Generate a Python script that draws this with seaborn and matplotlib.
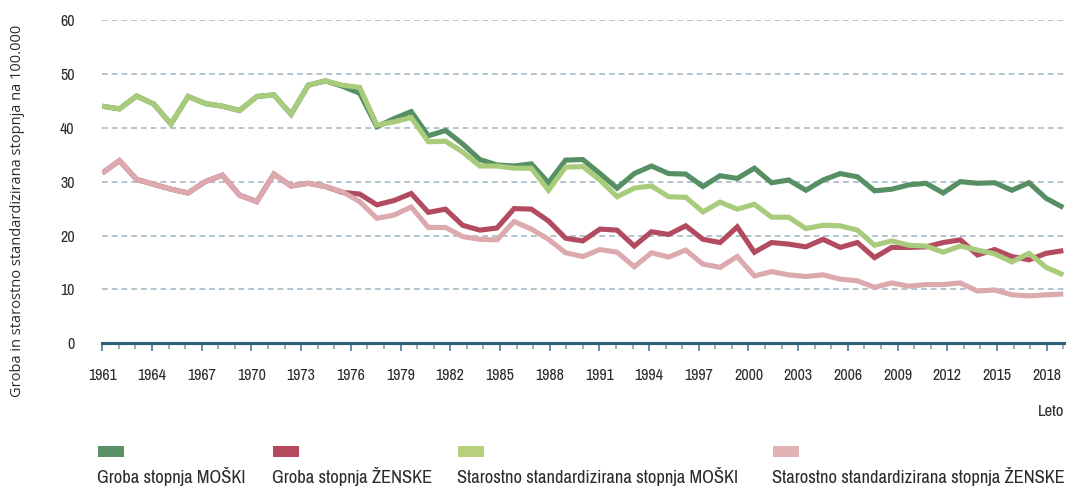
import numpy as np
import pandas as pd
import matplotlib
matplotlib.use("Agg")
import matplotlib.pyplot as plt
from matplotlib.patches import Rectangle
from matplotlib.ticker import FixedLocator
from matplotlib import font_manager
import seaborn as sns

# ---- data -------------------------------------------------------------
first_year = 1961
n_points = 57
axis_years = list(range(1961, 2020))          # year ticks along the axis
label_years = list(range(1961, 2019, 3))      # labelled ticks

crude_male = [44.0, 43.5, 45.9, 44.4, 40.7, 45.8, 44.5, 44.0, 43.2, 45.8, 46.1, 42.5, 47.9, 48.7,
              47.7, 46.4, 40.2, 41.7, 43.0,
              38.5, 39.5, 37.0, 34.1, 33.1, 32.9, 33.3, 29.8, 34.0, 34.1, 31.5, 28.8, 31.5, 32.9,
              31.5, 31.4, 29.1, 31.1, 30.6,
              32.5, 29.8, 30.3, 28.4, 30.3, 31.5, 30.9, 28.3, 28.6, 29.4, 29.7, 27.9, 30.0, 29.7,
              29.8, 28.4, 29.8, 26.9, 25.2]
crude_female = [31.6, 33.9, 30.4, 29.5, 28.6, 27.9, 30.0, 31.2, 27.5, 26.3, 31.4, 29.2, 29.7, 29.1,
                28.0, 27.7, 25.7, 26.5, 27.8,
                24.3, 24.9, 21.9, 21.0, 21.4, 25.0, 24.9, 22.7, 19.5, 19.0, 21.2, 21.0, 18.05, 20.7,
                20.2, 21.8, 19.3, 18.7, 21.6,
                16.9, 18.7, 18.4, 17.9, 19.3, 17.8, 18.7, 15.9, 17.8, 17.8, 17.9, 18.7, 19.2, 16.4,
                17.4, 16.1, 15.5, 16.7, 17.2]
std_male = [44.0, 43.5, 45.9, 44.4, 40.7, 45.8, 44.5, 44.0, 43.2, 45.8, 46.1, 42.5, 47.9, 48.7,
            47.9, 47.5, 40.5, 41.1, 41.9,
            37.4, 37.5, 35.5, 32.9, 32.9, 32.5, 32.5, 28.4, 32.7, 32.8, 30.3, 27.2, 28.8, 29.2,
            27.2, 27.1, 24.4, 26.2, 24.9,
            25.8, 23.4, 23.4, 21.3, 21.9, 21.8, 21.0, 18.2, 19.0, 18.2, 18.05, 16.9, 18.05, 17.3,
            16.6, 15.1, 16.7, 14.1, 12.7]
std_female = [31.6, 33.9, 30.4, 29.5, 28.6, 27.9, 30.0, 31.2, 27.5, 26.3, 31.4, 29.2, 29.7, 29.1,
              28.1, 26.3, 23.2, 23.8, 25.3,
              21.5, 21.5, 19.8, 19.3, 19.2, 22.6, 21.2, 19.3, 16.8, 16.1, 17.4, 16.9, 14.2, 16.8,
              16.0, 17.3, 14.7, 14.1, 16.1,
              12.5, 13.3, 12.7, 12.4, 12.7, 11.9, 11.6, 10.4, 11.2, 10.6, 10.9, 10.9, 11.2, 9.7,
              9.9, 9.0, 8.8, 9.0, 9.15]

series_names = ["Groba stopnja MOŠKI", "Groba stopnja ŽENSKE",
                "Starostno standardizirana stopnja MOŠKI", "Starostno standardizirana stopnja ŽENSKE"]
series_values = [crude_male, crude_female, std_male, std_female]
line_colors = ["#568f64", "#b24b60", "#a8cc7b", "#dcaaae"]
legend_colors = ["#5a9066", "#b54a5f", "#b6d07e", "#e2b3b5"]

y_ticks = [0, 10, 20, 30, 40, 50, 60]
y_label = "Groba in starostno standardizirana stopnja na 100.000"
x_label = "Leto"

# ---- fonts ------------------------------------------------------------
sns.set_theme(style="white")
installed = {f.name for f in font_manager.fontManager.ttflist}
narrow = next((f for f in ["Archivo Narrow", "Barlow Condensed", "Asap Condensed"] if f in installed),
              "DejaVu Sans")
regular = "Open Sans" if "Open Sans" in installed else "DejaVu Sans"
plt.rcParams["font.family"] = [narrow, "DejaVu Sans"]
text_color = "#2b2b2b"

# ---- long-form table --------------------------------------------------
rows = []
for name, vals in zip(series_names, series_values):
    for i, v in enumerate(vals):
        rows.append({"punkt": first_year + i, "serija": name, "vrednost": v})
df = pd.DataFrame(rows)

# ---- figure -----------------------------------------------------------
W, H = 1066, 488
fig = plt.figure(figsize=(W / 100, H / 100), dpi=100)
x0, x1 = 102.3, 1066.0
y0, y1 = 343.3, 20.0
ax = fig.add_axes([x0 / W, 1 - y0 / H, (x1 - x0) / W, (y0 - y1) / H])

step_px = (1063.3 - x0) / (n_points - 1)
ax.set_xlim(first_year, first_year + (x1 - x0) / step_px)
ax.set_ylim(0, 60)

sns.lineplot(data=df, x="punkt", y="vrednost", hue="serija", hue_order=series_names,
             palette=dict(zip(series_names, line_colors)), linewidth=3.7,
             legend=False, ax=ax, estimator=None, sort=False)
for ln in ax.get_lines():
    ln.set_solid_joinstyle("miter")
    ln.set_solid_capstyle("butt")

# grid and y axis
ax.set_yticks(y_ticks)
ax.set_yticklabels([str(t) for t in y_ticks], fontsize=11.5, color=text_color)
ax.tick_params(axis="y", length=0, pad=20)
ax.yaxis.grid(True, linestyle=(0, (3.2, 2.2)), color="#aebfca", linewidth=1.3)
ax.set_axisbelow(True)
for s in ["top", "right", "left"]:
    ax.spines[s].set_visible(False)
ax.spines["bottom"].set_color("#2c6079")
ax.spines["bottom"].set_linewidth(2.2)
ax.spines["bottom"].set_zorder(5)
ax.set_xticks([])
ax.set_xlabel("")
ax.set_ylabel("")

# year axis spanning the same width
span_pts = n_points - 1
span_years = axis_years[-1] - axis_years[0]
fwd = lambda x: axis_years[0] + (np.asarray(x) - first_year) * span_years / span_pts
inv = lambda y: first_year + (np.asarray(y) - axis_years[0]) * span_pts / span_years
sec = ax.secondary_xaxis("bottom", functions=(fwd, inv))
sec.xaxis.set_major_locator(FixedLocator(label_years))
sec.xaxis.set_minor_locator(FixedLocator(axis_years))
sec.set_xticklabels([str(y) for y in label_years], fontsize=11.5, color=text_color)
sec.tick_params(which="major", length=6, width=1.3, color="#5e849c", pad=12, direction="out")
sec.tick_params(which="minor", length=4, width=1.1, color="#7f9bb0", direction="out")
sec.spines["bottom"].set_color("#2c6079")
sec.spines["bottom"].set_linewidth(2.2)

# axis titles
fig.text(18 / W, 1 - 211 / H, y_label, rotation=90, ha="center", va="center",
         fontsize=10.5, color=text_color, family=[regular, "DejaVu Sans"])
fig.text(1064 / W, 1 - 412 / H, x_label, ha="right", va="center",
         fontsize=12, color=text_color)

# legend: swatch above each label
legend_x = [98, 273, 458, 773]
for lx, name, col in zip(legend_x, series_names, legend_colors):
    fig.add_artist(Rectangle((lx / W, 1 - 457 / H), 26 / W, 11 / H,
                             transform=fig.transFigure, color=col, lw=0))
    fig.text((lx - 1) / W, 1 - 477 / H, name, ha="left", va="center",
             fontsize=13.3, color=text_color)

fig.savefig("out.png", dpi=100)
